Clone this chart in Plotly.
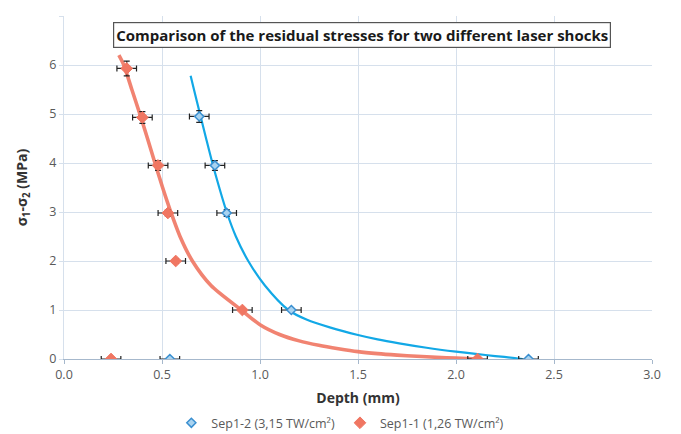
import plotly.graph_objects as go

# Measured points
sep12_depth = [0.69, 0.77, 0.83, 1.16, 0.54, 2.37]
sep12_stress = [4.95, 3.95, 2.98, 1.0, 0.0, 0.0]
sep12_xerr = [0.05, 0.05, 0.05, 0.05, 0.05, 0.05]
sep12_yerr = [0.12, 0.10, 0.07, 0.03, 0.0, 0.0]

sep11_depth = [0.32, 0.40, 0.48, 0.53, 0.57, 0.91, 0.24, 2.11]
sep11_stress = [5.93, 4.93, 3.95, 2.98, 2.0, 1.0, 0.0, 0.0]
sep11_xerr = [0.05, 0.05, 0.05, 0.05, 0.05, 0.05, 0.05, 0.05]
sep11_yerr = [0.15, 0.12, 0.10, 0.07, 0.05, 0.03, 0.0, 0.0]

# Trend curves
blue_fit_x = [0.646, 0.663, 0.694, 0.725, 0.757, 0.792, 0.83, 0.877, 0.94, 1.025, 1.145,
              1.24, 1.36, 1.5, 1.6, 1.71, 1.85, 2.0, 2.1, 2.2, 2.3, 2.34]
blue_fit_y = [5.78, 5.5, 5.0, 4.5, 4.0, 3.5, 3.0, 2.5, 2.0, 1.5, 1.0,
              0.8, 0.64, 0.49, 0.40, 0.32, 0.23, 0.15, 0.105, 0.06, 0.02, 0.0]
red_fit_x = [0.28, 0.305, 0.346, 0.387, 0.426, 0.464, 0.503, 0.545, 0.592, 0.655, 0.75, 0.905,
             1.0, 1.1, 1.2, 1.3, 1.4, 1.5, 1.6, 1.7, 1.8, 1.9, 2.0, 2.11]
red_fit_y = [6.2, 6.0, 5.5, 5.0, 4.5, 4.0, 3.5, 3.0, 2.5, 2.0, 1.5, 1.0,
             0.7, 0.5, 0.37, 0.28, 0.21, 0.15, 0.11, 0.08, 0.055, 0.035, 0.018, 0.0]

x_ticks = [0.0, 0.5, 1.0, 1.5, 2.0, 2.5, 3.0]
x_tick_labels = ["0.0", "0.5", "1.0", "1.5", "2.0", "2.5", "3.0"]
y_ticks = [0, 1, 2, 3, 4, 5, 6, 7]

title_text = "Comparison of the residual stresses for two different laser shocks"
font_fam = "Open Sans, Liberation Sans, sans-serif"

RED = "#f07662"
BLUE_LINE = "#12a8e6"
BLUE_MK = "#3a8fd0"

fig = go.Figure()

fig.add_trace(go.Scatter(x=red_fit_x, y=red_fit_y, mode="lines",
                         line=dict(color=RED, width=3.6, shape="spline", smoothing=0.8),
                         showlegend=False, hoverinfo="skip", opacity=0.9))
fig.add_trace(go.Scatter(x=blue_fit_x, y=blue_fit_y, mode="lines",
                         line=dict(color=BLUE_LINE, width=2.2, shape="spline", smoothing=0.8),
                         showlegend=False, hoverinfo="skip"))

fig.add_trace(go.Scatter(
    x=sep12_depth, y=sep12_stress, mode="markers", name="Sep1-2 (3,15 TW/cm²)",
    marker=dict(symbol="diamond", size=7, color="#a9d3f0", line=dict(color=BLUE_MK, width=1.5)),
    error_x=dict(type="data", array=sep12_xerr, color="#222222", thickness=1.2, width=3),
    error_y=dict(type="data", array=sep12_yerr, color="#222222", thickness=1.2, width=3),
))
fig.add_trace(go.Scatter(
    x=sep11_depth, y=sep11_stress, mode="markers", name="Sep1-1 (1,26 TW/cm²)",
    marker=dict(symbol="diamond", size=9, color=RED, line=dict(color=RED, width=1)),
    error_x=dict(type="data", array=sep11_xerr, color="#222222", thickness=1.2, width=3),
    error_y=dict(type="data", array=sep11_yerr, color="#222222", thickness=1.2, width=3),
))

fig.update_layout(
    width=673, height=426,
    margin=dict(l=56, r=29, t=8, b=75, autoexpand=False),
    paper_bgcolor="white", plot_bgcolor="white",
    font=dict(family=font_fam, size=12, color="#595959"),
    legend=dict(orientation="h", x=0.47, xanchor="center", y=-0.187, yanchor="middle",
                font=dict(size=12.5, color="#595959"), itemwidth=30, tracegroupgap=0),
    annotations=[dict(
        text="<b>" + title_text + "</b>", x=0.506, y=0.946, xref="paper", yref="paper",
        xanchor="center", yanchor="middle", showarrow=False,
        font=dict(size=15, color="#1a1a1a", family=font_fam),
        bordercolor="#555555", borderwidth=1.2, borderpad=2, bgcolor="white",
    )],
)

fig.update_xaxes(range=[0, 3], tickvals=x_ticks, ticktext=x_tick_labels,
                 showgrid=True, gridcolor="#d6e0ec", gridwidth=1,
                 zeroline=False, showline=True, linecolor="#a6b8cc", linewidth=1.2,
                 ticks="outside", ticklen=4, tickcolor="#a6b8cc",
                 title=dict(text="<b>Depth (mm)</b>", font=dict(size=14, color="#333333"), standoff=11),
                 tickfont=dict(size=12.5, color="#595959"))
fig.update_yaxes(range=[0, 7], tickvals=y_ticks,
                 showgrid=True, gridcolor="#d6e0ec", gridwidth=1,
                 zeroline=False, showline=True, linecolor="#d6e0ec",
                 ticks="outside", ticklen=4, tickcolor="#d6e0ec",
                 title=dict(text="<b>σ<sub>1</sub>-σ<sub>2</sub> (MPa)</b>", font=dict(size=14, color="#333333"), standoff=18),
                 tickfont=dict(size=12.5, color="#595959"))

fig.write_html("out.html")
